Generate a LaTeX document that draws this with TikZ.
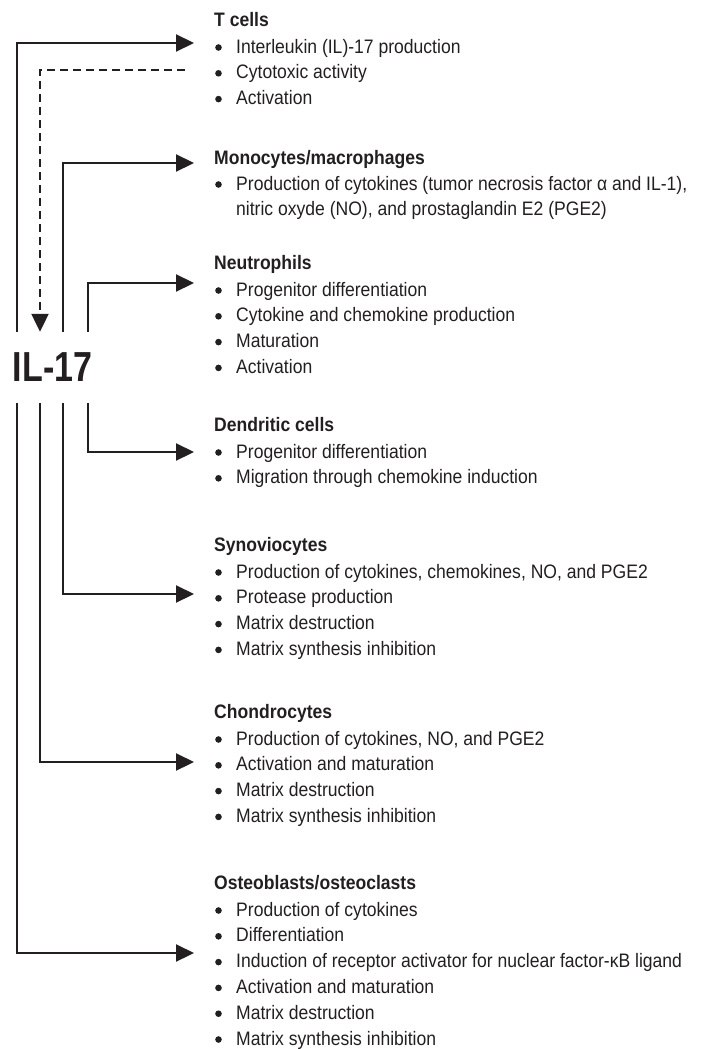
\documentclass[tikz,border=0pt]{standalone}
\usepackage{fontspec}
\setmainfont{Liberation Sans}[FakeStretch=0.9]
\usepackage{tikz}
\usetikzlibrary{arrows.meta, positioning, calc}
\definecolor{cink}{HTML}{231F20}

\tikzset{
  conn/.style={cink, line width=2.2pt, -{Triangle[length=18pt, width=17pt]}},
  backconn/.style={conn, dash pattern=on 8pt off 5pt},
  grouphead/.style={anchor=base west, inner sep=0pt, text=cink,
    font=\fontsize{19.5}{22}\selectfont\bfseries},
  listitem/.style={anchor=base west, inner sep=0pt, text=cink,
    font=\fontsize{19.5}{22}\selectfont},
}
% round bullet left of a list line
\newcommand{\bul}[1]{\fill[cink] ($(#1.base west)+(-17.5,-5.5)$) circle (3.3pt);}

\begin{document}
\begin{tikzpicture}[x=1pt, y=-1pt]
  \useasboundingbox (0,0) rectangle (714,1049);

  % the cytokine in the middle of the left column
  \node[inner sep=0pt, minimum height=71pt, text=cink,
    font=\fontsize{42}{42}\selectfont\bfseries] (il) at (52.5,367.5) {\scalebox{0.9}[1]{IL-17}};
  \coordinate (laneA) at (17,0);
  \coordinate (laneB) at (40,0);
  \coordinate (laneC) at (63,0);
  \coordinate (laneD) at (88,0);

  % T cells
  \node[grouphead] (tc) at (214,26.5) {T cells};
  \foreach \t [count=\i] in {Interleukin (IL)-17 production, Cytotoxic activity, Activation}{
    \node[listitem] (tc\i) at (236,{27.2+25.8*\i}) {\t};
    \bul{tc\i}
  }

  % Monocytes/macrophages
  \node[grouphead] (mo) at (214,164) {Monocytes/macrophages};
  \node[listitem] (mo1) at (236,190) {Production of cytokines (tumor necrosis factor α and IL-1),};
  \bul{mo1}
  \node[listitem] (mo2) at (236,215.8) {nitric oxyde (NO), and prostaglandin E2 (PGE2)};

  % Neutrophils
  \node[grouphead] (ne) at (214,269) {Neutrophils};
  \foreach \t [count=\i] in {Progenitor differentiation, Cytokine and chemokine production, Maturation, Activation}{
    \node[listitem] (ne\i) at (236,{270.2+25.8*\i}) {\t};
    \bul{ne\i}
  }

  % Dendritic cells
  \node[grouphead] (dc) at (214,431) {Dendritic cells};
  \foreach \t [count=\i] in {Progenitor differentiation, Migration through chemokine induction}{
    \node[listitem] (dc\i) at (236,{432.2+25.8*\i}) {\t};
    \bul{dc\i}
  }

  % Synoviocytes
  \node[grouphead] (sy) at (214,551) {Synoviocytes};
  \foreach \t [count=\i] in {{Production of cytokines, chemokines, NO, and PGE2}, Protease production, Matrix destruction, Matrix synthesis inhibition}{
    \node[listitem] (sy\i) at (236,{552.2+25.8*\i}) {\t};
    \bul{sy\i}
  }

  % Chondrocytes
  \node[grouphead] (ch) at (214,718) {Chondrocytes};
  \foreach \t [count=\i] in {{Production of cytokines, NO, and PGE2}, Activation and maturation, Matrix destruction, Matrix synthesis inhibition}{
    \node[listitem] (ch\i) at (236,{719.2+25.8*\i}) {\t};
    \bul{ch\i}
  }

  % Osteoblasts/osteoclasts
  \node[grouphead] (os) at (214,889) {Osteoblasts/osteoclasts};
  \foreach \t [count=\i] in {Production of cytokines, Differentiation, Induction of receptor activator for nuclear factor-κB ligand, Activation and maturation, Matrix destruction, Matrix synthesis inhibition}{
    \node[listitem] (os\i) at (236,{890.2+25.8*\i}) {\t};
    \bul{os\i}
  }

  % arrow ends, just left of the lists
  \coordinate (toTc) at (194,43);
  \coordinate (fromTc) at (185,70);
  \coordinate (toMo) at (194,163);
  \coordinate (toNe) at (194,283);
  \coordinate (toDc) at (194,452);
  \coordinate (toSy) at (194,594);
  \coordinate (toCh) at (194,762);
  \coordinate (toOs) at (194,953);

  % upper lanes
  \draw[conn] (il.north -| laneA) |- (toTc);
  \draw[backconn] (fromTc) -| (il.north -| laneB);
  \draw[conn] (il.north -| laneC) |- (toMo);
  \draw[conn] (il.north -| laneD) |- (toNe);
  % lower lanes
  \draw[conn] (il.south -| laneD) |- (toDc);
  \draw[conn] (il.south -| laneC) |- (toSy);
  \draw[conn] (il.south -| laneB) |- (toCh);
  \draw[conn] (il.south -| laneA) |- (toOs);
\end{tikzpicture}
\end{document}
